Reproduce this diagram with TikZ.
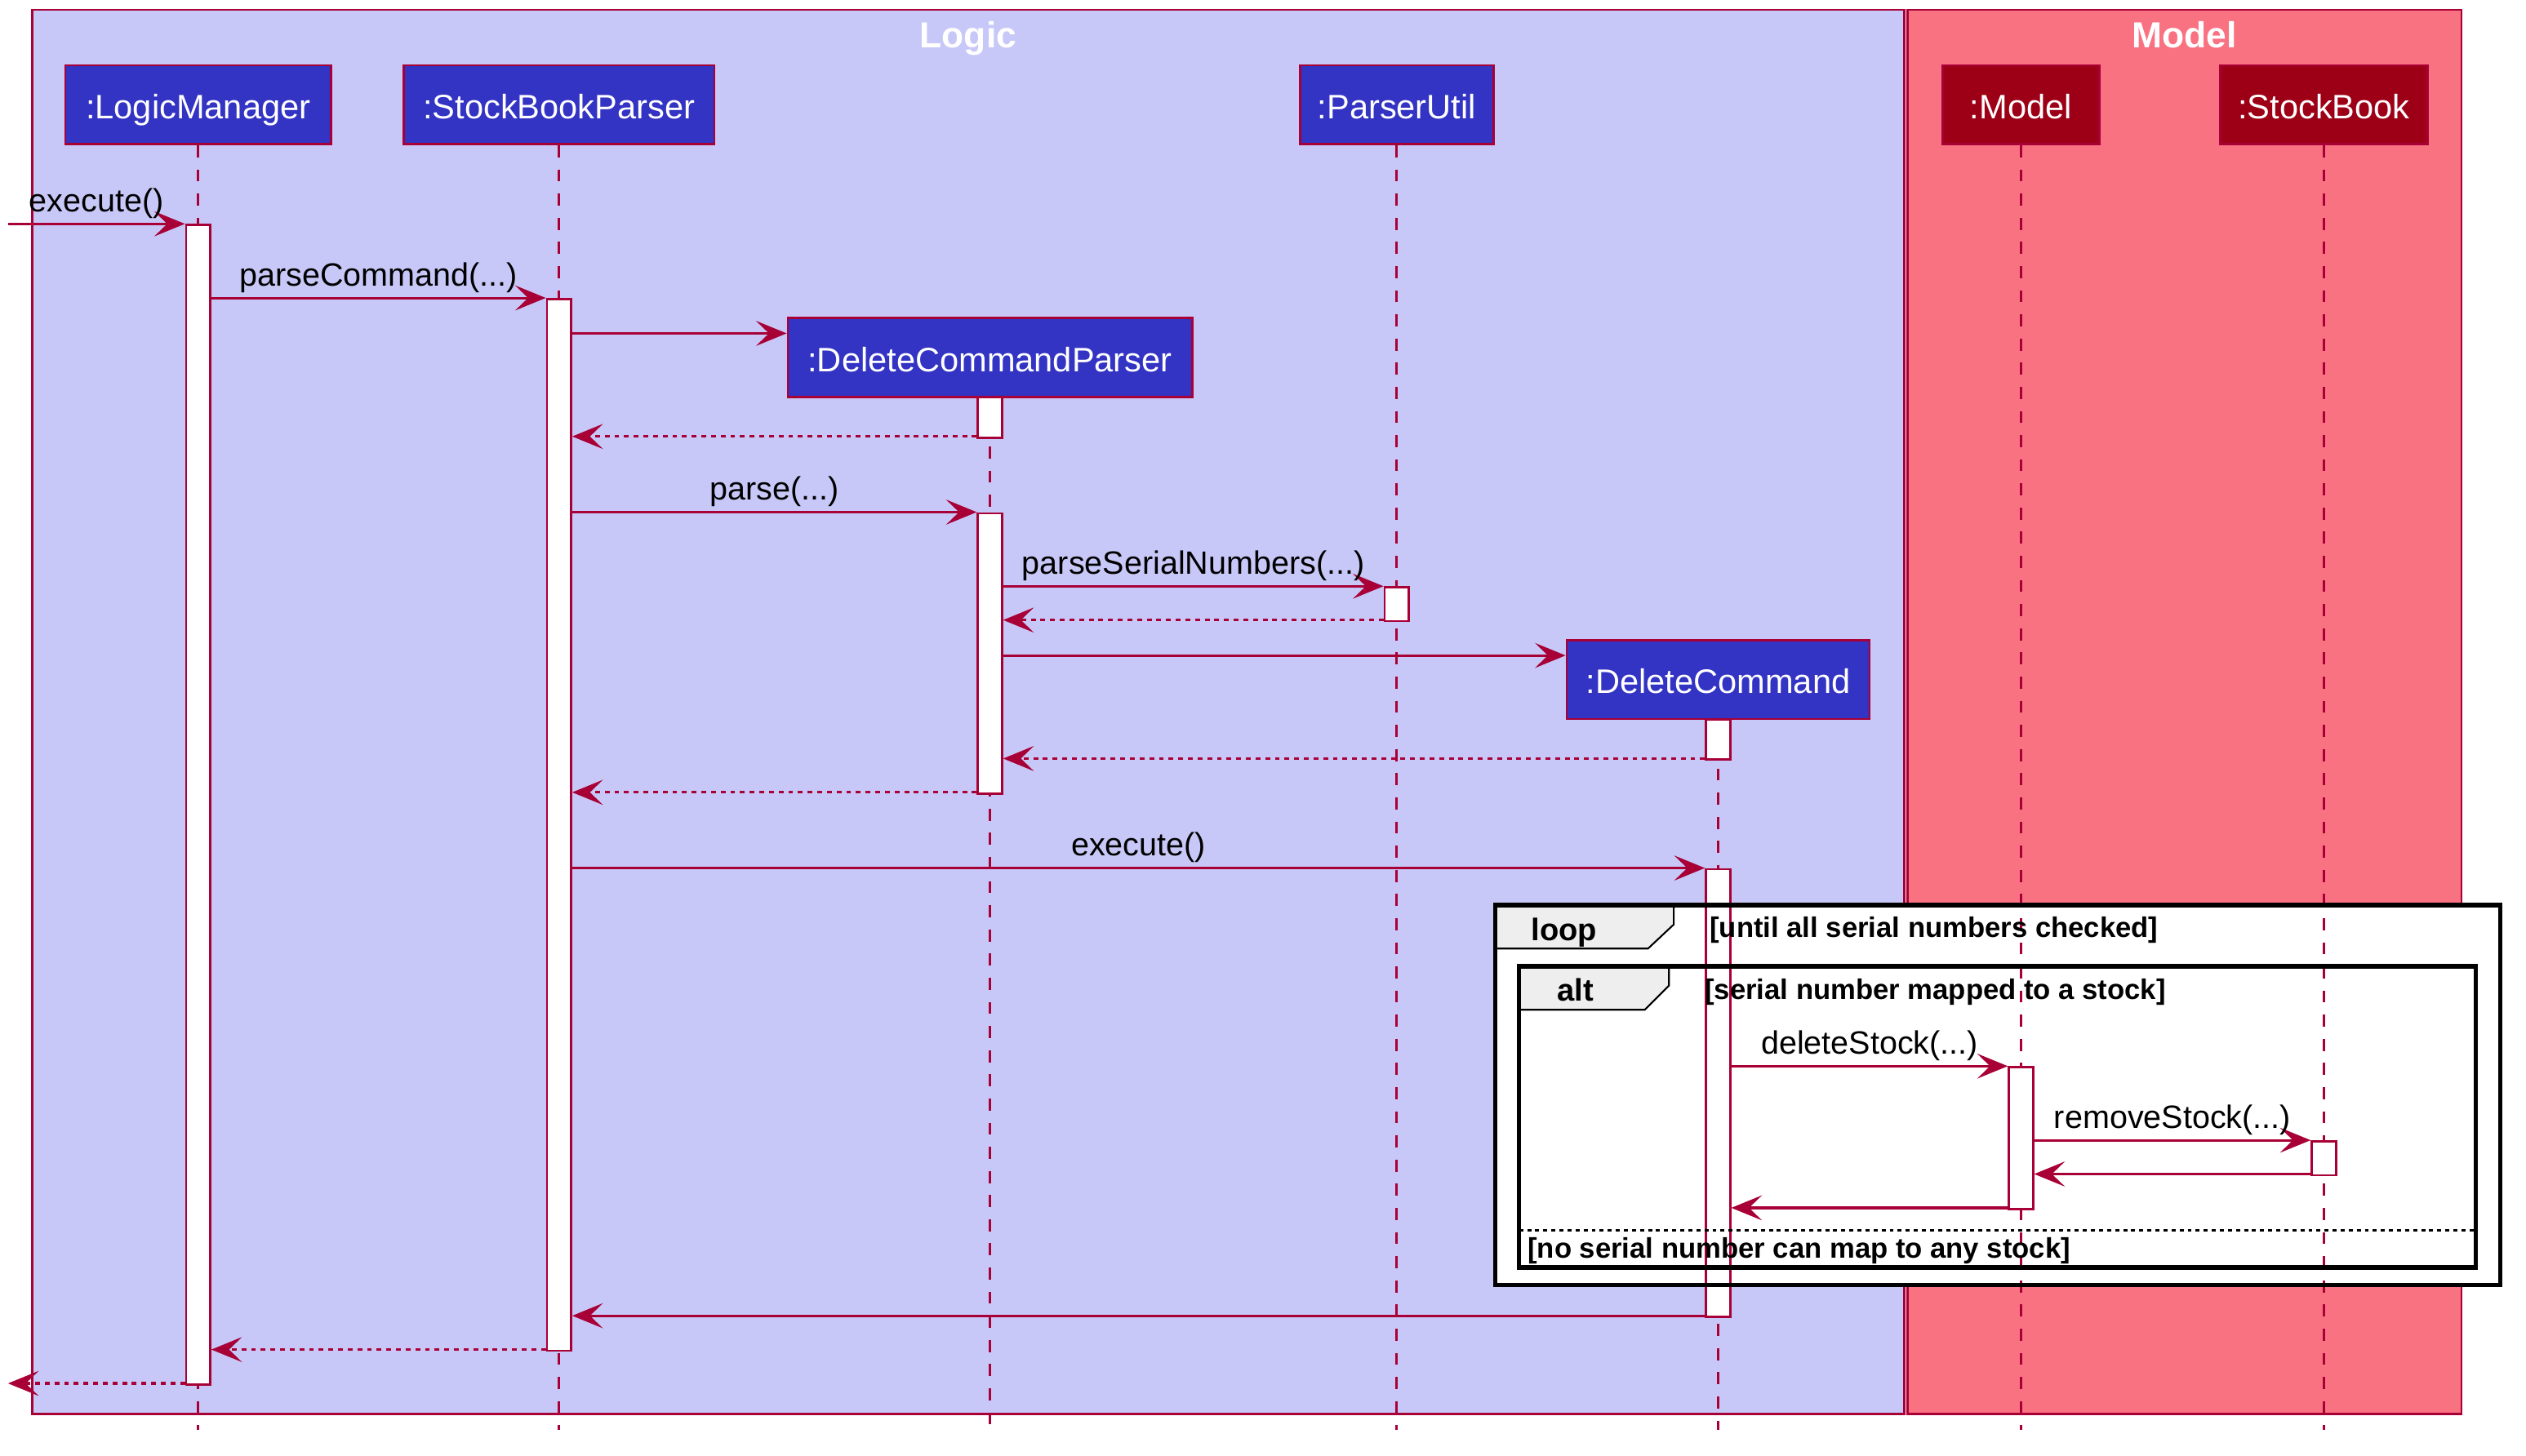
\documentclass[tikz,border=0pt]{standalone}
\usepackage{fontspec}
\setmainfont{Liberation Sans}
\usetikzlibrary{arrows.meta,positioning}

\definecolor{crimson}{RGB}{168,0,54}
\definecolor{logicbg}{RGB}{200,200,248}
\definecolor{modelbg}{RGB}{249,114,130}
\definecolor{logicobj}{RGB}{51,51,196}
\definecolor{modelobj}{RGB}{157,0,22}
\definecolor{tabgray}{RGB}{238,238,238}

\begin{document}
\begin{tikzpicture}[x=0.02cm, y=-0.02cm,
  group/.style={draw=crimson, line width=0.7pt},
  grouptitle/.style={text=white, anchor=base, inner sep=0pt,
                     font=\fontsize{12.8}{15}\selectfont\bfseries},
  obj/.style={draw=crimson, line width=0.8pt, text=white, minimum height=0.98cm,
              inner xsep=2pt, text height=0.35cm, text depth=0cm,
              font=\fontsize{12}{14}\selectfont},
  lifeline/.style={crimson, line width=0.8pt, dash pattern=on 0.15cm off 0.15cm},
  bar/.style={draw=crimson, fill=white, line width=0.8pt, minimum width=0.3cm,
              inner sep=0pt, anchor=north},
  msg/.style={crimson, line width=0.9pt,
              -{Stealth[length=0.38cm, width=0.31cm, inset=0.16cm]}},
  ret/.style={msg, dash pattern=on 0.06cm off 0.06cm},
  lbl/.style={text=black, anchor=base, yshift=0.15cm, inner sep=0pt,
              font=\fontsize{11.4}{13}\selectfont},
  fragment/.style={draw=black, line width=1.5pt},
  fragtab/.style={draw=black, fill=tabgray, line width=0.6pt},
  guard/.style={anchor=base west, inner sep=0pt, font=\fontsize{10}{12}\selectfont\bfseries},
  kw/.style={anchor=base, inner sep=0pt, font=\fontsize{11}{13}\selectfont\bfseries},
]
\useasboundingbox (0,0) rectangle (1568,904);

\draw[group, fill=logicbg] (20,6) rectangle (1182,878);
\draw[group, fill=modelbg] (1184,6) rectangle (1528,878);
\node[grouptitle] (logicT) at (601,29.5) {Logic};
\node[grouptitle] (modelT) at (1356,29.5) {Model};

\fill[white] (928,562) rectangle (1552,798);
\draw[fragtab] (928,562) -- (1039,562) -- (1039,574) -- (1023,589) -- (928,589) -- cycle;
\draw[fragtab] (943,600) -- (1036,600) -- (1036,612) -- (1021,627) -- (943,627) -- cycle;

\node[obj, fill=logicobj, minimum width=3.3cm]  (lm)  at (123,65)    {:LogicManager};
\node[obj, fill=logicobj, minimum width=3.86cm] (sbp) at (347,65)    {:StockBookParser};
\node[obj, fill=logicobj, minimum width=2.4cm]  (pu)  at (867,65)    {:ParserUtil};
\node[obj, fill=logicobj, minimum width=5.02cm] (dcp) at (614.5,222) {:DeleteCommandParser};
\node[obj, fill=logicobj, minimum width=3.76cm] (dc)  at (1066.5,422) {:DeleteCommand};
\node[obj, fill=modelobj, minimum width=1.94cm] (mdl) at (1254.5,65) {:Model};
\node[obj, fill=modelobj, minimum width=2.58cm] (sb)  at (1442.5,65) {:StockBook};

\coordinate (bot) at (0,888);
\coordinate (ext) at (5,139);
\foreach \p in {lm,sbp,pu,dcp,dc,mdl,sb}{ \draw[lifeline] (\p.south) -- (\p.south |- bot); }

\foreach \n/\x/\t/\b in {lmA/123/139/859, sbpA/347/185/838, dcpA/614.5/246/271,
    dcpB/614.5/318/492, puA/867/364/385, dcA/1066.5/446/471, dcB/1066.5/539/817,
    mdlA/1254.5/662/750, sbA/1442.5/708/729}{
  \node[bar, minimum height={(\b-\t)*0.02cm}] (\n) at (\x,\t) {};
}

\foreach \y/\a/\b/\txt in {139/ext/lmA.west/execute(), 185/lmA.east/sbpA.west/parseCommand(.{}.{}.),
    318/sbpA.east/dcpB.west/parse(.{}.{}.), 364/dcpB.east/puA.west/parseSerialNumbers(.{}.{}.),
    539/sbpA.east/dcB.west/execute(), 662/dcB.east/mdlA.west/deleteStock(.{}.{}.),
    708/mdlA.east/sbA.west/removeStock(.{}.{}.)}{
  \draw[msg] (\a |- 0,\y) -- node[lbl] {\txt} (\b |- 0,\y);
}
\foreach \y/\a/\b in {207/sbpA.east/dcp.west, 407/dcpB.east/dc.west, 729/sbA.west/mdlA.east,
    750/mdlA.west/dcB.east, 817/dcB.west/sbpA.east}{
  \draw[msg] (\a |- 0,\y) -- (\b |- 0,\y);
}
\foreach \y/\a/\b in {271/dcpA.west/sbpA.east, 385/puA.west/dcpB.east, 471/dcA.west/dcpB.east,
    492/dcpB.west/sbpA.east, 838/sbpA.west/lmA.east, 859/lmA.west/ext}{
  \draw[ret] (\a |- 0,\y) -- (\b |- 0,\y);
}

\draw[fragment] (928,562) rectangle (1552,798);
\draw[fragment] (943,600) rectangle (1537,787);
\draw[black, line width=0.8pt, dash pattern=on 0.05cm off 0.05cm] (943,764) -- (1537,764);
\node[kw] (loopkw) at (971,584) {loop};
\node[guard] (loopg) at (1061,582) {[until all serial numbers checked]};
\node[kw] (altkw) at (978,621.5) {alt};
\node[guard] (altg) at (1058,620.5) {[serial number mapped to a stock]};
\node[guard] (elseg) at (948,781) {[no serial number can map to any stock]};
\end{tikzpicture}
\end{document}
